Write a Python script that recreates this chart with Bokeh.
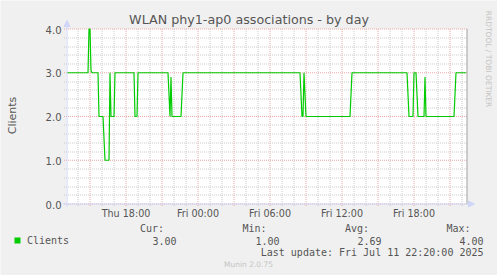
import numpy as np
import pandas as pd
from bokeh.plotting import figure
from bokeh.models import Range1d, Arrow, NormalHead
from bokeh.core.properties import value
from bokeh.embed import file_html
from bokeh.resources import INLINE

# ---------------- data ----------------
title_text = "WLAN phy1-ap0 associations - by day"
y_label = "Clients"
series_name = "Clients"
times = [
    "2025-07-10 13:05", "2025-07-10 14:50", "2025-07-10 14:55", "2025-07-10 15:00",
    "2025-07-10 15:05", "2025-07-10 15:10", "2025-07-10 15:40", "2025-07-10 15:45",
    "2025-07-10 16:05", "2025-07-10 16:15", "2025-07-10 16:35", "2025-07-10 16:40",
    "2025-07-10 16:45", "2025-07-10 17:00", "2025-07-10 17:05", "2025-07-10 18:40",
    "2025-07-10 18:45", "2025-07-10 18:55", "2025-07-10 19:00", "2025-07-10 21:30",
    "2025-07-10 21:40", "2025-07-10 21:45", "2025-07-10 21:50", "2025-07-10 22:35",
    "2025-07-10 22:45", "2025-07-11 08:30", "2025-07-11 08:40", "2025-07-11 08:45",
    "2025-07-11 08:50", "2025-07-11 09:00", "2025-07-11 12:40", "2025-07-11 12:50",
    "2025-07-11 17:25", "2025-07-11 17:35", "2025-07-11 17:55", "2025-07-11 18:00",
    "2025-07-11 18:10", "2025-07-11 18:20", "2025-07-11 18:50", "2025-07-11 18:55",
    "2025-07-11 19:00", "2025-07-11 21:20", "2025-07-11 21:30", "2025-07-11 22:20",
]
clients = [
    3.0, 3.0, 4.0, 4.0,
    3.05, 3.0, 3.0, 2.0,
    2.0, 1.0, 1.0, 3.0,
    2.0, 2.0, 3.0, 3.0,
    2.0, 2.0, 3.0, 3.0,
    2.0, 2.9, 2.0, 2.0,
    3.0, 3.0, 2.0, 2.0,
    3.0, 2.0, 2.0, 3.0,
    3.0, 2.0, 2.0, 3.0,
    3.0, 2.0, 2.0, 2.9,
    2.0, 2.0, 3.0, 3.0,
]
window_start = "2025-07-10 13:00"
window_end = "2025-07-11 22:20"
y_ticks = [0.0, 1.0, 2.0, 3.0, 4.0]
y_tick_labels = ["0.0", "1.0", "2.0", "3.0", "4.0"]
x_ticks = ["2025-07-10 18:00", "2025-07-11 00:00", "2025-07-11 06:00",
           "2025-07-11 12:00", "2025-07-11 18:00"]
x_tick_labels = ["Thu 18:00", "Fri 00:00", "Fri 06:00", "Fri 12:00", "Fri 18:00"]
stat_names = ["Cur:", "Min:", "Avg:", "Max:"]
stat_values = ["3.00", "1.00", "2.69", "4.00"]
last_update = "Last update: Fri Jul 11 22:20:00 2025"
footer = "Munin 2.0.75"
watermark = "RRDTOOL / TOBI OETIKER"


def to_ms(seq):
    return np.asarray(pd.to_datetime(pd.Series(seq)).astype("datetime64[ns]").astype("int64")) / 1e6

t_ms = to_ms(times)
xt_ms = to_ms(x_ticks)
w0, w1 = to_ms([window_start, window_end])

W, H = 497, 275
MIN5 = 5 * 60 * 1000.0
HOUR = 12 * MIN5
# chart area geometry (canvas px)
PX_T0 = 65.5          # pixel of window start
PPU = 175.0 / 4.0     # px per unit
PY_0 = 203.5          # pixel of value 0
BASE_FIX = 0.3        # baseline correction (em)

time_range = Range1d(w0 - PX_T0 * MIN5, w0 + (W - PX_T0) * MIN5)
val_range = Range1d(-(H - PY_0) / PPU, PY_0 / PPU)

p = figure(width=W, height=H, output_backend="svg", toolbar_location=None, title=None,
           x_range=Range1d(0, W), y_range=Range1d(H, 0),
           min_border=0, min_border_left=0, min_border_right=0, min_border_top=0,
           min_border_bottom=0, background_fill_color="#f0f0f0",
           border_fill_color="#f0f0f0", outline_line_color=None)
p.axis.visible = False
p.grid.visible = False
p.extra_x_ranges = {"time": time_range}
p.extra_y_ranges = {"val": val_range}

# chart canvas (white)
p.quad(left=[w0], right=[w1 + MIN5], bottom=[y_ticks[0]], top=[y_ticks[-1]],
       x_range_name="time", y_range_name="val", fill_color="white", line_color=None)

# grids
minor_x = np.arange(np.floor(w0 / HOUR) * HOUR + HOUR, w1, HOUR)
minor_x = minor_x[minor_x > w0]
major_x = minor_x[np.round(minor_x / HOUR).astype(int) % 3 == 0]
minor_x = minor_x[np.round(minor_x / HOUR).astype(int) % 3 != 0]
yy = np.round(np.arange(0, 4.0001, 0.2), 2)
minor_y = yy[np.abs(yy - np.round(yy)) > 1e-6]
# snap minor lines to pixel centres, as rrdtool does
minor_y = (PY_0 - (np.floor(PY_0 - minor_y * PPU) + 0.5)) / PPU
major_y = np.array(y_ticks)
grid_minor = "#cccccc"
grid_major = "#eaa8a8"
ext = 2.0
for xs, col in ((minor_x, grid_minor), (major_x, grid_major)):
    p.segment(x0=xs, x1=xs, y0=np.full(len(xs), -ext / PPU), y1=np.full(len(xs), y_ticks[-1]),
              x_range_name="time", y_range_name="val", line_color=col, line_width=1,
              line_dash="1 1")
for ys, col in ((minor_y, grid_minor), (major_y, grid_major)):
    p.segment(x0=np.full(len(ys), w0 - ext * MIN5), x1=np.full(len(ys), w1 + ext * MIN5),
              y0=ys, y1=ys, x_range_name="time", y_range_name="val", line_color=col,
              line_width=1, line_dash="1 1")

# axes with arrows
axis_col = "#cfd6f8"
p.add_layout(Arrow(x_start=66.5, y_start=206, x_end=66.5, y_end=20, line_color=axis_col,
                   line_width=1, end=NormalHead(size=6, fill_color=axis_col, line_color=axis_col)))
p.add_layout(Arrow(x_start=62, y_start=203.5, x_end=474, y_end=203.5, line_color=axis_col,
                   line_width=1, end=NormalHead(size=6, fill_color=axis_col, line_color=axis_col)))

# end-of-data rule
p.segment(x0=[w1 + MIN5], x1=[w1 + MIN5], y0=[y_ticks[0]], y1=[y_ticks[-1]],
          x_range_name="time", y_range_name="val", line_color="#a0a0a0", line_width=1)

# data line
p.line(x=t_ms, y=clients, x_range_name="time", y_range_name="val",
       line_color="#00cc00", line_width=1.2)

font_col = "#555555"
sans = value("DejaVu Sans")
mono = value("DejaVu Sans Mono")


def fix(size):
    return BASE_FIX * size

# tick labels
p.text(x=np.full(len(y_ticks), 61.0), y=(PY_0 - np.array(y_ticks) * PPU) + 3.6 - fix(10),
       text=y_tick_labels, text_font=sans, text_font_size=value("10px"), text_color=font_col,
       text_align="right", text_baseline="alphabetic")
p.text(x=xt_ms, y=np.full(len(xt_ms), 216.0 - fix(9.6)), text=x_tick_labels, x_range_name="time",
       text_font=sans, text_font_size=value("9.6px"), text_color=font_col,
       text_align="center", text_baseline="alphabetic")

# title, axis label, watermark
p.text(x=[248.5], y=[23.0 - fix(12.7)], text=[title_text], text_font=sans,
       text_font_size=value("12.7px"), text_color=font_col, text_align="center",
       text_baseline="alphabetic")
p.text(x=[15.5 - fix(11)], y=[115.0], text=[y_label], text_font=sans, text_font_size=value("11px"),
       text_color=font_col, text_align="center", text_baseline="alphabetic", angle=np.pi / 2)
p.text(x=[485.5 + fix(7.5)], y=[58.5], text=[watermark], text_font=sans,
       text_font_size=value("7.5px"), text_color="#c4c4c4", text_align="center",
       text_baseline="alphabetic", angle=-np.pi / 2)

# legend
name_x = [139.5, 242.0, 344.5, 446.0]
val_right = [176.0, 279.0, 381.0, 483.0]
p.text(x=name_x, y=[231.0 - fix(10)] * 4, text=stat_names, text_font=mono,
       text_font_size=value("10px"), text_color=font_col, text_align="left",
       text_baseline="alphabetic")
p.text(x=val_right, y=[243.0 - fix(10)] * 4, text=stat_values, text_font=mono,
       text_font_size=value("10px"), text_color=font_col, text_align="right",
       text_baseline="alphabetic")
p.quad(left=[14], right=[20], top=[237], bottom=[243], fill_color="#00cc00", line_color=None)
p.text(x=[26.5], y=[243.0 - fix(10)], text=[series_name], text_font=mono,
       text_font_size=value("10px"), text_color=font_col, text_align="left",
       text_baseline="alphabetic")
p.text(x=[483.0], y=[255.0 - fix(10)], text=[last_update], text_font=mono,
       text_font_size=value("10px"), text_color=font_col, text_align="right",
       text_baseline="alphabetic")
p.text(x=[248.0], y=[266.5 - fix(7.5)], text=[footer], text_font=sans,
       text_font_size=value("7.5px"), text_color="#c4c4c4", text_align="center",
       text_baseline="alphabetic")

open("out.html", "w").write(file_html(p, INLINE))
